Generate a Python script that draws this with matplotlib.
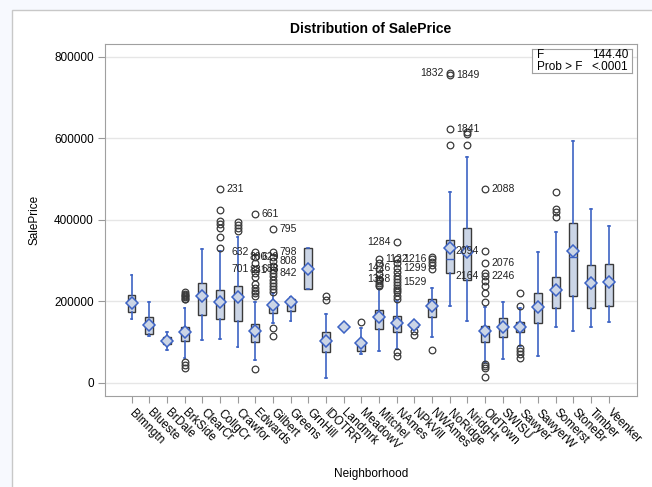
import matplotlib
matplotlib.use("Agg")
import matplotlib.pyplot as plt
from matplotlib.patches import Rectangle

plt.rcParams['font.family'] = ['Liberation Sans', 'DejaVu Sans']

neighborhoods = ["Blmngtn", "Blueste", "BrDale", "BrkSide", "ClearCr", "CollgCr", "Crawfor",
                 "Edwards", "Gilbert", "Greens", "GrnHill", "IDOTRR", "Landmrk", "MeadowV",
                 "Mitchel", "NAmes", "NPkVill", "NWAmes", "NoRidge", "NridgHt", "OldTown",
                 "SWISU", "Sawyer", "SawyerW", "Somerst", "StoneBr", "Timber", "Veenker"]

# values in thousands of dollars
whisker_low = [156, 114, 82, 62, 106, 108, 89, 56, 147, 152, 230, 12, 137, 71,
               79, 83, 136, 112, 189, 153, 52, 59, 91, 65, 138, 128, 136, 150]
q1 = [173, 120, 95, 104, 167, 158, 152, 101, 171, 177, 230, 77, 137, 79,
      132, 124, 136, 161, 269, 252, 101, 112, 124, 146, 184, 212, 183, 188]
median = [195, 142, 104, 122, 208, 200, 206, 130, 189, 193, 280, 104, 137, 95,
          161, 147, 142, 189, 304, 315, 124, 135, 135, 181, 225, 310, 238, 246]
q3 = [216, 162, 112, 138, 244, 228, 238, 144, 197, 207, 330, 124, 137, 104,
      180, 165, 147, 207, 351, 379, 140, 159, 149, 220, 260, 393, 290, 291]
whisker_high = [264, 199, 124, 183, 328, 324, 358, 199, 220, 211, 330, 169, 137, 134,
                230, 201, 150, 234, 467, 555, 185, 199, 184, 320, 370, 592, 426, 385]
mean = [197, 143, 104, 124, 212, 198, 210, 128, 192, 198, 280, 103, 137, 98,
        162, 146, 142, 189, 330, 320, 128, 137, 136, 185, 228, 324, 246, 248]
outliers = [
    [], [], [],
    [223, 219, 215, 212, 210, 207, 205, 52, 44, 37],
    [],
    [475, 424, 397, 389, 379, 359, 331],
    [395, 387, 379, 373],
    [415, 321, 310, 294, 279, 269, 259, 242, 234, 226, 220, 214, 34],
    [377, 321, 310, 299, 287, 277, 269, 261, 252, 244, 237, 230, 224, 134, 114],
    [], [],
    [214, 204],
    [],
    [150],
    [304, 293, 279, 267, 255, 250, 245, 241, 237],
    [346, 304, 294, 283, 271, 263, 255, 247, 240, 234, 228, 222, 214, 206, 77, 65],
    [127, 118],
    [310, 304, 297, 289, 279, 81],
    [760, 754, 623, 584],
    [615, 610, 583],
    [475, 324, 294, 269, 263, 250, 237, 220, 199, 46, 41, 36, 14],
    [],
    [220, 189, 85, 79, 71, 61],
    [],
    [468, 426, 418, 406],
    [], [], [],
]
# outlier labels: (text, neighborhood, value in thousands, side)
outlier_labels = [
    ("231", "CollgCr", 475, "R"), ("661", "Edwards", 415, "R"), ("795", "Gilbert", 377, "R"),
    ("632", "Edwards", 321, "L"), ("701", "Edwards", 279, "L"),
    ("800", "Gilbert", 310, "L"), ("629", "Edwards", 310, "R"),
    ("881", "Gilbert", 277, "L"), ("688", "Edwards", 279, "R"),
    ("798", "Gilbert", 321, "R"), ("808", "Gilbert", 299, "R"), ("842", "Gilbert", 269, "R"),
    ("1284", "NAmes", 346, "L"), ("1426", "NAmes", 283, "L"), ("1368", "NAmes", 255, "L"),
    ("1122", "Mitchel", 304, "R"), ("1216", "NAmes", 304, "R"), ("1299", "NAmes", 283, "R"),
    ("1529", "NAmes", 247, "R"),
    ("1832", "NoRidge", 760, "L"), ("1849", "NoRidge", 754, "R"), ("1841", "NoRidge", 623, "R"),
    ("2088", "OldTown", 475, "R"), ("2094", "OldTown", 324, "L"), ("2164", "OldTown", 263, "L"),
    ("2076", "OldTown", 294, "R"), ("2246", "OldTown", 263, "R"),
]
y_ticks = [0, 200000, 400000, 600000, 800000]
f_value = "144.40"
p_value = "<.0001"

K = 1000
stats = []
for i, name in enumerate(neighborhoods):
    stats.append(dict(label=name, whislo=whisker_low[i] * K, q1=q1[i] * K, med=median[i] * K,
                      q3=q3[i] * K, whishi=whisker_high[i] * K, mean=mean[i] * K,
                      fliers=[v * K for v in outliers[i]]))

W, H = 652, 487
fig = plt.figure(figsize=(W / 100, H / 100), dpi=100, facecolor='#f7f9fe')
fig.patches.append(Rectangle((12 / W, -0.1), 1.2, 1.1 - 10 / H, transform=fig.transFigure,
                             facecolor='white', edgecolor='#c8c8c8', lw=1.0, zorder=-10))
ax = fig.add_axes([105 / W, 1 - 396 / H, (637 - 105) / W, (396 - 44) / H])
ax.set_facecolor('white')

blue = '#3d63c4'
positions = list(range(len(neighborhoods)))
ax.bxp(stats, positions=positions, widths=0.45, showmeans=True, patch_artist=True,
       capwidths=0.1,
       boxprops=dict(facecolor='#cbd5e6', edgecolor='#3a3a3a', lw=1.0),
       medianprops=dict(color=blue, lw=1.0),
       whiskerprops=dict(color=blue, lw=1.2),
       capprops=dict(color=blue, lw=1.2),
       meanprops=dict(marker='D', markerfacecolor='#cbd5e6', markeredgecolor=blue,
                      markersize=5.8, markeredgewidth=1.1),
       flierprops=dict(marker='o', markerfacecolor='none', markeredgecolor='#3a3a3a',
                       markersize=4.8, markeredgewidth=0.9))

for text, name, val, side in outlier_labels:
    xi = neighborhoods.index(name)
    dx = 4.5 if side == "R" else -4.5
    ax.annotate(text, (xi, val * K), xytext=(dx, 0), textcoords='offset points',
                ha='left' if side == "R" else 'right', va='center', fontsize=7.5,
                color='#222222', zorder=5)

ax.set_xlim(-1.5, 28.6)
ax.set_ylim(-32000, 831000)
ax.set_yticks(y_ticks)
ax.set_yticklabels([str(v) for v in y_ticks])
ax.yaxis.grid(True, color='#e6e6e6', lw=1.0)
ax.set_axisbelow(True)
ax.set_xticks(positions)
ax.set_xticklabels(neighborhoods, rotation=-45, ha='left', va='center',
                   rotation_mode='anchor', fontsize=8.5)
ax.tick_params(axis='x', length=5, color='#9a9a9a', pad=6)
ax.tick_params(axis='y', length=5, color='#9a9a9a', labelsize=8.5, pad=3)
for sp in ax.spines.values():
    sp.set_color('#a0a0a0')

ax.set_ylabel('SalePrice', fontsize=8.5, labelpad=10)
ax.set_xlabel('Neighborhood', fontsize=8.5, labelpad=11)
ax.set_title('Distribution of SalePrice', fontsize=10, fontweight='bold', pad=8)

# F statistic inset
inset = ax.inset_axes([(532 - 105) / (637 - 105), (396 - 73) / (396 - 44),
                       (632 - 532) / (637 - 105), (73 - 49) / (396 - 44)])
inset.set_xticks([]); inset.set_yticks([])
inset.set_facecolor('white')
for sp in inset.spines.values():
    sp.set_color('#a0a0a0')
inset.text(0.05, 0.74, 'F', fontsize=8.5, va='center', ha='left', transform=inset.transAxes)
inset.text(0.96, 0.74, f_value, fontsize=8.5, va='center', ha='right', transform=inset.transAxes)
inset.text(0.05, 0.27, 'Prob > F', fontsize=8.5, va='center', ha='left', transform=inset.transAxes)
inset.text(0.96, 0.27, p_value, fontsize=8.5, va='center', ha='right', transform=inset.transAxes)

fig.savefig('out.png', dpi=100, facecolor=fig.get_facecolor())
